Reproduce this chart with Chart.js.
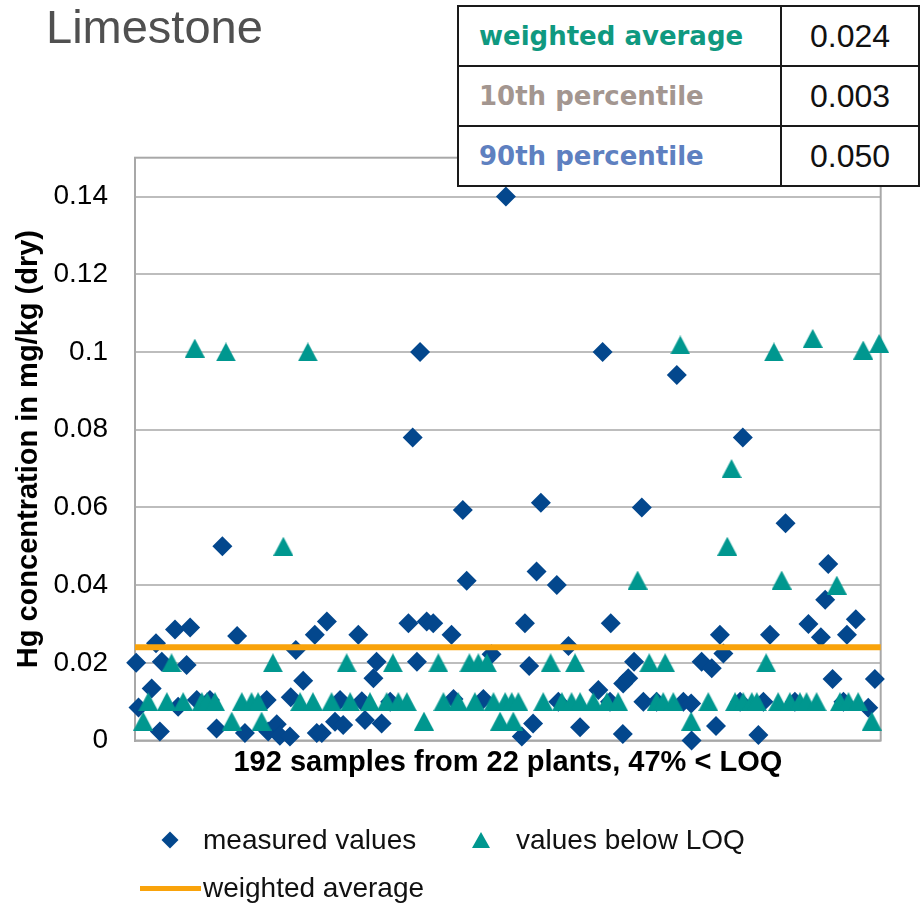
<!DOCTYPE html>
<html>
<head>
<meta charset="utf-8">
<script src="https://cdn.jsdelivr.net/npm/chart.js@4"></script>
<style>
  body { margin: 0; background: #fff; font-family: 'Liberation Sans', Arial, sans-serif; }
  #page { position: relative; width: 920px; height: 907px; overflow: hidden; }
  #myChart { position: absolute; left: 0; top: 0; }
  #title { position: absolute; left: 46px; top: 3px; font-size: 47px; line-height: 47px; color: #505050; }
  #stats { position: absolute; left: 457px; top: 5px; border-collapse: collapse; background: #fff; }
  #stats td { border: 2px solid #1a1a1a; height: 58px; padding: 0; }
  #stats td.lab { width: 301px; padding-left: 20px; font-family: 'DejaVu Sans', Verdana, sans-serif; font-weight: bold; font-size: 26px; }
  #stats td.val { width: 136px; text-align: center; font-size: 32px; color: #111; }
  .leg { position: absolute; font-size: 28px; line-height: 28px; color: #111; white-space: nowrap; }
  .mk { position: absolute; }
</style>
</head>
<body>
<div id="page">
  <canvas id="myChart" width="920" height="907"></canvas>
  <div id="title"></div>
  <table id="stats"></table>
  <div id="legend"></div>
</div>
<script>
// ---- data ----
const chartTitle = 'Limestone';
const yTitle = 'Hg concentration in mg/kg (dry)';
const xTitle = '192 samples from 22 plants, 47% < LOQ';
const seriesNames = ['measured values', 'values below LOQ', 'weighted average'];

const sampleCount = 192;
const yMax = 0.15;
const yTicks = [0, 0.02, 0.04, 0.06, 0.08, 0.1, 0.12, 0.14];
const yTickLabels = ['0', '0.02', '0.04', '0.06', '0.08', '0.1', '0.12', '0.14'];

// measured values (diamonds): sample index / Hg mg/kg
const measuredIdx = [0.3, 0.9, 4.3, 5.4, 6.4, 6.9, 10.3, 11.1, 13.3, 14.2, 15.9, 19.3, 21.0, 22.5, 26.3, 28.3,
  33.9, 34.3, 36.5, 37.3, 39.9, 40.1, 41.4, 43.3, 46.3, 46.8, 48.1, 49.4, 51.5, 52.8, 53.6, 57.5,
  58.4, 59.2, 61.4, 62.2, 63.5, 65.7, 70.4, 71.5, 72.6, 73.4, 75.1, 76.8, 81.5, 82.0, 84.4, 85.4,
  89.7, 91.8, 95.5, 99.6, 100.4, 101.5, 102.5, 103.4, 104.5, 108.6, 109.0, 111.6, 114.6, 119.3,
  120.4, 122.3, 122.5, 125.6, 125.7, 127.0, 128.5, 130.5, 130.9, 134.3, 139.5, 141.2, 143.3, 143.2,
  145.9, 148.5, 149.6, 150.6, 151.5, 155.8, 156.5, 160.5, 161.8, 163.5, 167.5, 169.9, 173.4, 176.6,
  177.7, 178.5, 179.6, 182.4, 183.3, 185.6, 188.8, 190.5];
const measuredHg = [0.020, 0.0085, 0.0134, 0.025, 0.0023, 0.0203, 0.0286, 0.0087, 0.0194, 0.0291, 0.0104, 0.0104, 0.0031, 0.050, 0.0269, 0.0019,
  0.0104, 0.0023, 0.0042, 0.0012, 0.001, 0.0111, 0.0233, 0.0154, 0.0272, 0.0019, 0.0019, 0.0306, 0.0048, 0.0104, 0.004, 0.0272,
  0.0101, 0.0053, 0.016, 0.0203, 0.0044, 0.010, 0.0302, 0.078, 0.0203, 0.100, 0.0306, 0.0302, 0.0272, 0.0107, 0.0593, 0.0411,
  0.0107, 0.0222, 0.140, 0.001, 0.0302, 0.0192, 0.0044, 0.0435, 0.0612, 0.040, 0.010, 0.0243, 0.0034, 0.013,
  0.100, 0.010, 0.0302, 0.0017, 0.0147, 0.016, 0.0203, 0.060, 0.010, 0.010, 0.0941, 0.010, 0.0, 0.0095,
  0.0203, 0.0186, 0.0037, 0.0272, 0.0224, 0.010, 0.078, 0.0014, 0.010, 0.0272, 0.0559, 0.010, 0.030, 0.0266,
  0.0362, 0.0454, 0.0158, 0.010, 0.0272, 0.0312, 0.0084, 0.0158];

// values below LOQ (triangles)
const loqIdx = [15.4, 23.4, 44.5, 140.4, 164.5, 174.5, 187.5, 191.6, 153.6, 38.2, 152.5, 129.4, 166.5, 180.7,
  9.4, 35.5, 54.5, 66.4, 78.1, 86.1, 88.4, 90.6, 107.0, 113.3, 132.4, 136.5, 162.5,
  3.4, 8.2, 12.4, 17.2, 18.6, 20.6, 27.5, 30.0, 31.7, 42.5, 45.8, 50.6, 55.4, 60.5, 64.8, 67.8, 70.0,
  79.4, 83.2, 87.5, 92.3, 95.3, 97.0, 98.7, 105.1, 109.9, 112.4, 114.6, 118.0, 121.5, 124.4,
  134.3, 136.0, 138.6, 147.6, 154.5, 156.6, 158.8, 160.1, 165.6, 168.6, 171.2, 172.9, 175.5,
  181.5, 183.7, 186.2,
  2.1, 24.9, 32.6, 74.4, 94.0, 97.4, 143.2, 189.7];
const loqHg = [0.101, 0.100, 0.100, 0.1018, 0.100, 0.1035, 0.1005, 0.1022, 0.070, 0.050, 0.050, 0.0413, 0.0413, 0.040,
  0.020, 0.020, 0.020, 0.020, 0.020, 0.020, 0.020, 0.020, 0.020, 0.020, 0.020, 0.020, 0.020,
  0.010, 0.010, 0.010, 0.010, 0.010, 0.010, 0.010, 0.010, 0.010, 0.010, 0.010, 0.010, 0.010, 0.010, 0.010, 0.010, 0.010,
  0.010, 0.010, 0.010, 0.010, 0.010, 0.010, 0.010, 0.010, 0.010, 0.010, 0.010, 0.010, 0.010, 0.010,
  0.010, 0.010, 0.010, 0.010, 0.010, 0.010, 0.010, 0.010, 0.010, 0.010, 0.010, 0.010, 0.010,
  0.010, 0.010, 0.010,
  0.005, 0.005, 0.005, 0.005, 0.005, 0.005, 0.005, 0.005];

const weightedAverage = 0.024;

const statLabels = ['weighted average', '10th percentile', '90th percentile'];
const statValues = ['0.024', '0.003', '0.050'];

// ---- styles ----
const FONT = "'Liberation Sans', Arial, sans-serif";
const blue = '#03478D';
const teal = '#00978F';
const orange = '#F9A30B';
const statColors = ['#0F9980', '#A39690', '#5E80C0'];

//------------------------------------------------------------
// Title, table, legend (html)

document.getElementById('title').innerText = chartTitle;

const stats = document.getElementById('stats');
statLabels.forEach((lab, i) => {
    const tr = document.createElement('tr');
    const td1 = document.createElement('td');
    td1.className = 'lab';
    td1.style.color = statColors[i];
    td1.innerText = lab;
    const td2 = document.createElement('td');
    td2.className = 'val';
    td2.innerText = statValues[i];
    tr.appendChild(td1);
    tr.appendChild(td2);
    stats.appendChild(tr);
});

const legend = document.getElementById('legend');
function addLegend(html, left, top) {
    const el = document.createElement('div');
    el.innerHTML = html;
    el.firstChild.style.left = left + 'px';
    el.firstChild.style.top = top + 'px';
    legend.appendChild(el.firstChild);
}
// diamond
addLegend(`<div class="mk" style="width:12px;height:12px;background:${blue};transform:rotate(45deg)"></div>`, 164, 834);
addLegend(`<div class="leg">${seriesNames[0]}</div>`, 203, 826);
// triangle
addLegend(`<div class="mk" style="width:0;height:0;border-left:9px solid transparent;border-right:9px solid transparent;border-bottom:16px solid ${teal}"></div>`, 472, 832);
addLegend(`<div class="leg">${seriesNames[1]}</div>`, 516, 826);
// line
addLegend(`<div class="mk" style="width:61px;height:5px;background:${orange}"></div>`, 140, 886);
addLegend(`<div class="leg">${seriesNames[2]}</div>`, 203, 874);

//------------------------------------------------------------
// Chart

// triangle marker, centred on its bounding box
const tri = document.createElement('canvas');
tri.width = 20;
tri.height = 19;
const tctx = tri.getContext('2d');
tctx.fillStyle = teal;
tctx.beginPath();
tctx.moveTo(10, 0);
tctx.lineTo(20, 19);
tctx.lineTo(0, 19);
tctx.closePath();
tctx.fill();

const framePlugin = {
    id: 'frame',
    beforeDatasetsDraw(chart) {
        const {ctx, chartArea: a} = chart;
        ctx.save();
        ctx.strokeStyle = '#A8A8A8';
        ctx.lineWidth = 2;
        ctx.strokeRect(a.left, a.top, a.right - a.left, a.bottom - a.top);
        ctx.restore();
    }
};

const measured = measuredIdx.map((x, i) => ({x, y: measuredHg[i]}));
const belowLoq = loqIdx.map((x, i) => ({x, y: loqHg[i]}));

const config = {
    type: 'scatter',
    data: {
        datasets: [
            {
                type: 'line',
                label: seriesNames[2],
                data: [{x: 0, y: weightedAverage}, {x: sampleCount, y: weightedAverage}],
                borderColor: orange,
                borderWidth: 6,
                pointRadius: 0,
                order: 0,
                clip: false
            },
            {
                label: seriesNames[1],
                data: belowLoq,
                pointStyle: tri,
                pointRadius: 10,
                backgroundColor: teal,
                borderWidth: 0,
                order: 1,
                clip: false
            },
            {
                label: seriesNames[0],
                data: measured,
                pointStyle: 'rectRot',
                pointRadius: 10,
                backgroundColor: blue,
                borderWidth: 0,
                order: 2,
                clip: false
            }
        ]
    },
    options: {
        responsive: false,
        animation: false,
        devicePixelRatio: 1,
        events: [],
        layout: { padding: { left: 0, top: 157.7, right: 39.3, bottom: 0 } },
        plugins: { legend: { display: false }, tooltip: { enabled: false } },
        scales: {
            x: {
                type: 'linear',
                min: 0,
                max: sampleCount,
                ticks: { display: false },
                grid: { display: false },
                border: { display: false },
                title: {
                    display: true,
                    text: xTitle,
                    color: '#000',
                    font: { family: FONT, size: 29, weight: 'bold' },
                    padding: { top: 0, bottom: 126.6 }
                },
                afterFit: (scale) => { scale.height = 166.5; }
            },
            y: {
                min: 0,
                max: yMax,
                afterBuildTicks: (scale) => { scale.ticks = yTicks.map((v) => ({value: v})); },
                ticks: {
                    color: '#000',
                    padding: 27,
                    font: { family: FONT, size: 28 },
                    callback: (v, i) => yTickLabels[i]
                },
                grid: { color: '#BDBDBD', lineWidth: 2, drawTicks: false },
                border: { display: true, color: '#A8A8A8', width: 2 },
                title: {
                    display: true,
                    text: yTitle,
                    color: '#000',
                    font: { family: FONT, size: 29, weight: 'bold' },
                    padding: { top: 12, bottom: 0 }
                },
                afterFit: (scale) => { scale.width = 135; }
            }
        }
    },
    plugins: [framePlugin]
};

const canvas = document.getElementById('myChart');
const myChart = new Chart(canvas, config);
</script>
</body>
</html>
